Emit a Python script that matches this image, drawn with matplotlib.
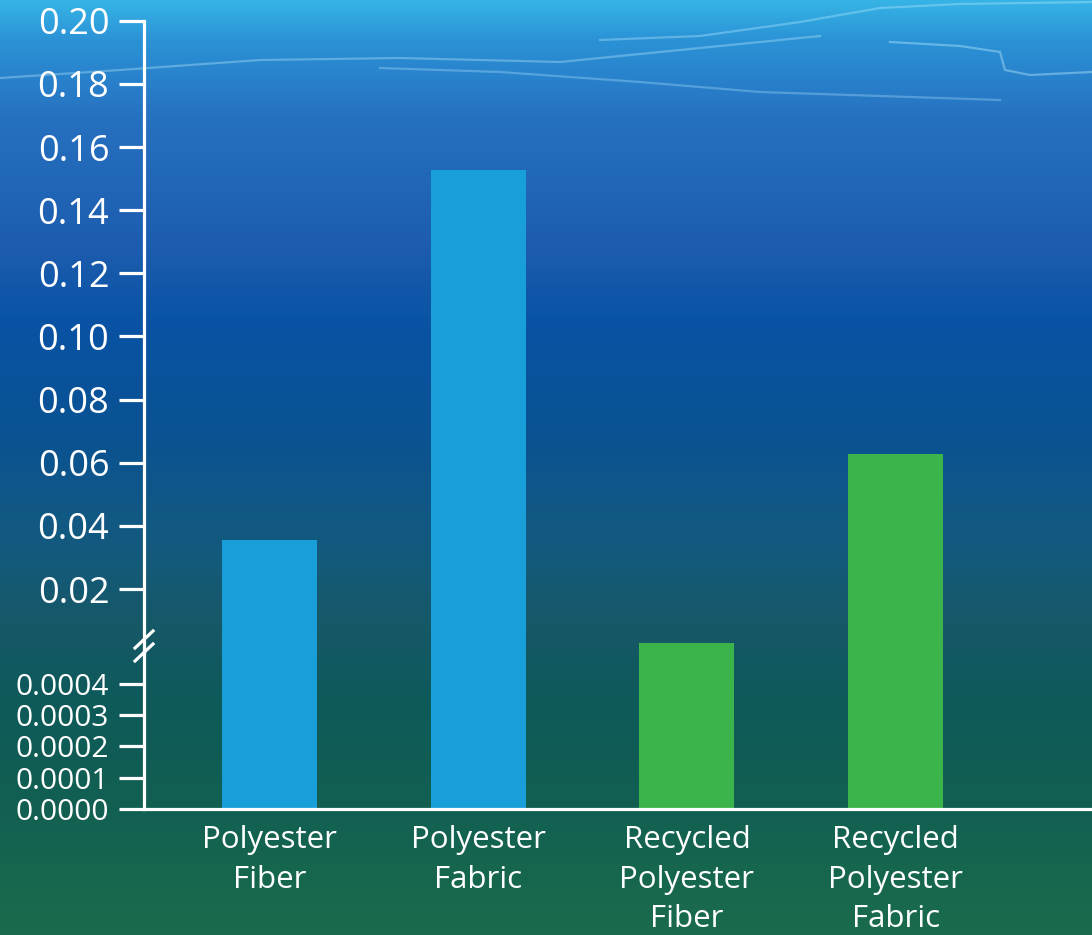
import numpy as np
import matplotlib
matplotlib.use('Agg')
import matplotlib.pyplot as plt
from matplotlib.lines import Line2D

plt.rcParams['font.family'] = ['Open Sans', 'DejaVu Sans']

# data
categories = ['Polyester\nFiber', 'Polyester\nFabric',
              'Recycled\nPolyester\nFiber', 'Recycled\nPolyester\nFabric']
values = [0.0355, 0.1527, 0.0029, 0.0628]
bar_colors = ['#189fda', '#189fda', '#3bb44b', '#3bb44b']
upper_ticks = [0.02, 0.04, 0.06, 0.08, 0.10, 0.12, 0.14, 0.16, 0.18, 0.20]
lower_ticks = [0.0, 0.0001, 0.0002, 0.0003, 0.0004]

W, H = 1092, 935
fig = plt.figure(figsize=(W / 100, H / 100), dpi=100)

# underwater background gradient
stops_y = [0, 40, 120, 250, 320, 430, 540, 620, 700, 800, 935]
stops_c = ['#36b4e6', '#2b92d6', '#2670c0', '#1c5cae', '#0953a5', '#0a5293',
           '#135a80', '#165868', '#0e5a5a', '#125f52', '#1a6c4c']
rgb = np.array([matplotlib.colors.to_rgb(c) for c in stops_c])
rows = np.arange(H)
grad = np.stack([np.interp(rows, stops_y, rgb[:, k]) for k in range(3)], axis=-1)
grad = np.repeat(grad[:, None, :], 2, axis=1)
bg = fig.add_axes([0, 0, 1, 1], zorder=-10)
bg.imshow(grad, aspect='auto', extent=[0, W, H, 0], interpolation='bilinear')
# faint ripples near the surface
ripples = [
    ([0, 120, 260, 400, 560, 700, 820], [78, 70, 60, 58, 62, 48, 36], 0.35),
    ([380, 500, 640, 760, 880, 1000], [68, 72, 82, 92, 96, 100], 0.30),
    ([600, 700, 800, 880, 960, 1092], [40, 36, 22, 8, 4, 2], 0.35),
    ([890, 960, 1000, 1005, 1030, 1092], [42, 46, 52, 70, 75, 72], 0.4),
]
for xs, ys, a in ripples:
    bg.plot(xs, ys, color='#bfefff', lw=1.6, alpha=a)
bg.set_xlim(0, W)
bg.set_ylim(H, 0)
bg.axis('off')

left = 144 / W
y_top, y_break, y_zero = 20.7, 652.2, 808.7
ax_up = fig.add_axes([left, 1 - y_break / H, 1 - left, (y_break - y_top) / H])
ax_lo = fig.add_axes([left, 1 - y_zero / H, 1 - left, (y_zero - y_break) / H])

x = np.arange(len(categories))
for ax in (ax_up, ax_lo):
    ax.bar(x, values, width=0.455, color=bar_colors)
    ax.set_facecolor('none')
    ax.set_xlim(-0.6, 3.94)
    ax.spines['top'].set_visible(False)
    ax.spines['right'].set_visible(False)
    ax.spines['left'].set_color('white')
    ax.spines['left'].set_linewidth(2.3)
    ax.tick_params(axis='y', direction='out', length=18, width=2.3,
                   color='white', labelcolor='white', pad=7)

ax_up.set_ylim(0, 0.2)
ax_up.set_yticks(upper_ticks)
ax_up.set_yticklabels(['%.2f' % v for v in upper_ticks], fontsize=26)
ax_up.spines['bottom'].set_visible(False)
ax_up.set_xticks([])

ax_lo.set_ylim(0, 0.000503)
ax_lo.set_yticks(lower_ticks)
ax_lo.set_yticklabels(['%.4f' % v for v in lower_ticks], fontsize=21.5)
ax_lo.spines['bottom'].set_color('white')
ax_lo.spines['bottom'].set_linewidth(2.3)
ax_lo.set_xticks(x)
ax_lo.set_xticklabels(categories, fontsize=22.5, color='white', linespacing=1.4)
ax_lo.tick_params(axis='x', length=0, pad=12)

# break marks on the y axis
for dy in (0, 13):
    fig.add_artist(Line2D([135 / W, 153 / W],
                          [1 - (648 + dy) / H, 1 - (631 + dy) / H],
                          color='white', lw=2.3))

fig.savefig('out.png', dpi=100)
